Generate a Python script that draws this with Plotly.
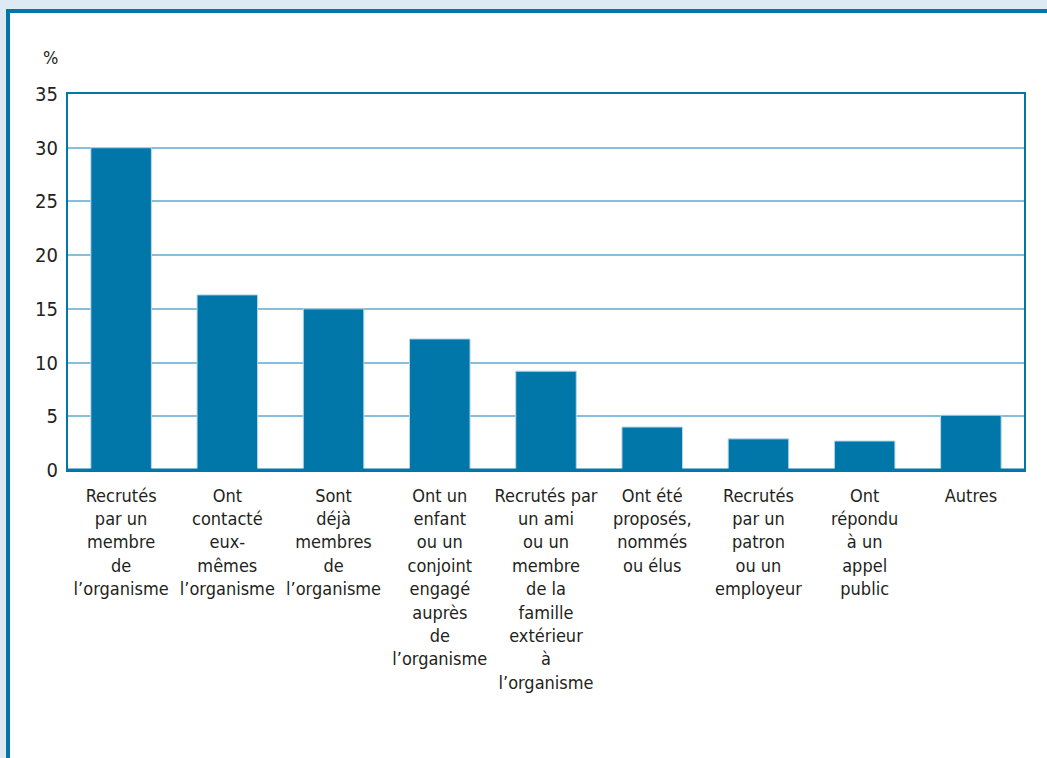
import plotly.graph_objects as go

categories = [
    "Recrutés<br>par un<br>membre<br>de<br>l’organisme",
    "Ont<br>contacté<br>eux-<br>mêmes<br>l’organisme",
    "Sont<br>déjà<br>membres<br>de<br>l’organisme",
    "Ont un<br>enfant<br>ou un<br>conjoint<br>engagé<br>auprès<br>de<br>l’organisme",
    "Recrutés par<br>un ami<br>ou un<br>membre<br>de la<br>famille<br>extérieur<br>à<br>l’organisme",
    "Ont été<br>proposés,<br>nommés<br>ou élus",
    "Recrutés<br>par un<br>patron<br>ou un<br>employeur",
    "Ont<br>répondu<br>à un<br>appel<br>public",
    "Autres",
]
values = [30.0, 16.3, 15.0, 12.2, 9.2, 4.0, 2.9, 2.7, 5.1]
y_ticks = [0, 5, 10, 15, 20, 25, 30, 35]

BLUE = "#0077a8"
GRID = "#86bedc"
FONT = "Liberation Sans Narrow, DejaVu Sans Condensed, Arial Narrow, sans-serif"

W, H = 1047, 758
L, R, T, B = 68, 23, 94, 288
pw, ph = W - L - R, H - T - B

def px_x(p):
    return (p - L) / pw

def px_y(p):
    return (H - B - p) / ph

fig = go.Figure()
fig.add_trace(go.Bar(
    x=list(range(len(categories))),
    y=values,
    marker=dict(color=BLUE, line=dict(color="#b9d8ea", width=1)),
    width=0.57,
))

fig.update_layout(
    width=W, height=H,
    margin=dict(l=L, r=R, t=T, b=B),
    paper_bgcolor="#dde9f3",
    plot_bgcolor="white",
    showlegend=False,
    font=dict(family=FONT, size=18, color="#231f20"),
    xaxis=dict(
        tickmode="array",
        tickvals=list(range(len(categories))),
        ticktext=categories,
        range=[-0.5, len(categories) - 0.5],
        showgrid=False,
        showline=True, linecolor=BLUE, linewidth=2, mirror=True,
        ticks="", tickangle=0,
        ticklabelstandoff=8,
        tickfont=dict(family=FONT, size=18, color="#231f20"),
    ),
    yaxis=dict(
        range=[0, 35],
        tickvals=y_ticks,
        showgrid=True, gridcolor=GRID, gridwidth=2,
        showline=True, linecolor=BLUE, linewidth=2, mirror=True,
        zeroline=False,
        ticks="",
        ticklabelstandoff=4,
        tickfont=dict(family=FONT, size=20, color="#231f20"),
    ),
    shapes=[
        dict(type="rect", xref="paper", yref="paper", layer="below",
             x0=px_x(8), x1=px_x(1065), y0=px_y(780), y1=px_y(11),
             fillcolor="white", line=dict(color=BLUE, width=4)),
        dict(type="line", xref="paper", yref="paper",
             x0=0, x1=1, y0=0, y1=0,
             line=dict(color=BLUE, width=3)),
    ],
    annotations=[
        dict(text="%", xref="paper", yref="paper",
             x=px_x(50), y=px_y(57), xanchor="center", yanchor="middle",
             showarrow=False,
             font=dict(family=FONT, size=18, color="#231f20")),
    ],
)

fig.write_html(
    "out.html",
    config={"displayModeBar": False},
    post_script="document.body.style.margin='0';document.body.style.overflow='hidden';",
)
